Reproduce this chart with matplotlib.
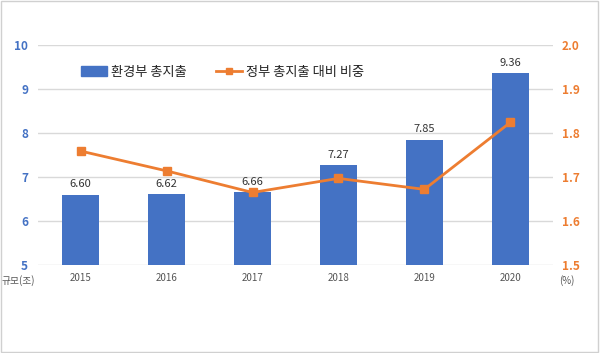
import matplotlib
matplotlib.use('Agg')
import matplotlib.pyplot as plt
from matplotlib.patches import Rectangle
from matplotlib.lines import Line2D
import numpy as np

plt.rcParams['font.family'] = ['Noto Sans CJK KR', 'DejaVu Sans']

###############################################################################
# Data
###############################################################################
years = ['2015', '2016', '2017', '2018', '2019', '2020']
spend = [6.60, 6.62, 6.66, 7.27, 7.85, 9.36]          # 환경부 총지출 (조)
share = [1.759, 1.714, 1.665, 1.697, 1.672, 1.824]    # 정부 총지출 대비 비중 (%)
bar_name = '환경부 총지출'
line_name = '정부 총지출 대비 비중'

blue = '#4472C4'
orange = '#ED7D31'

fig = plt.figure(figsize=(6.0, 3.53), dpi=100)
fig.patches.append(Rectangle((0.002, 0.003), 0.995, 0.994, transform=fig.transFigure,
                             fill=False, edgecolor='#D0D0D0', linewidth=1))
ax = fig.add_axes([0.063, 0.249, 0.859, 0.6235])
x = np.arange(len(years))

ax.bar(x, spend, width=0.43, color=blue, zorder=2)
for xi, v in zip(x, spend):
    ax.text(xi, v + 0.12, '%.2f' % v, ha='center', va='bottom', fontsize=8, color='#333333')

ax.set_ylim(5, 10)
ax.set_xlim(-0.5, len(years) - 0.5)
ax.set_yticks(range(5, 11))
ax.grid(axis='y', color='#D9D9D9', linewidth=1, zorder=0)
ax.set_axisbelow(True)
ax.tick_params(axis='y', length=0, pad=7, labelsize=8.5, labelcolor=blue)
ax.tick_params(axis='x', length=0, pad=6, labelsize=7, labelcolor='#555555')
for t in ax.get_yticklabels():
    t.set_fontweight('bold')
ax.set_xticks(x)
ax.set_xticklabels(years)
for s in ax.spines.values():
    s.set_visible(False)

ax2 = ax.twinx()
ax2.plot(x, share, color=orange, linewidth=2, marker='s', markersize=6, zorder=3)
ax2.set_ylim(1.5, 2.0)
ax2.set_yticks([1.5, 1.6, 1.7, 1.8, 1.9, 2.0])
ax2.set_yticklabels(['%.1f' % v for v in [1.5, 1.6, 1.7, 1.8, 1.9, 2.0]])
ax2.tick_params(axis='y', length=0, pad=6, labelsize=8.5, labelcolor=orange)
for t in ax2.get_yticklabels():
    t.set_fontweight('bold')
for s in ax2.spines.values():
    s.set_visible(False)

fig.text(0.03, 0.205, '규모(조)', fontsize=7, color='#555555', ha='center', va='center')
fig.text(0.945, 0.205, '(%)', fontsize=7, color='#555555', ha='center', va='center')

handles = [Rectangle((0, 0), 1, 1, color=blue),
           Line2D([0], [0], color=orange, linewidth=2, marker='s', markersize=5)]
leg = ax2.legend(handles, [bar_name, line_name], loc='upper left', bbox_to_anchor=(0.06, 0.96),
                 ncol=2, frameon=False, fontsize=9.5, handlelength=2.0, handletextpad=0.3,
                 columnspacing=2.2)
for t in leg.get_texts():
    t.set_color('#222222')

fig.savefig('out.png', dpi=100)
